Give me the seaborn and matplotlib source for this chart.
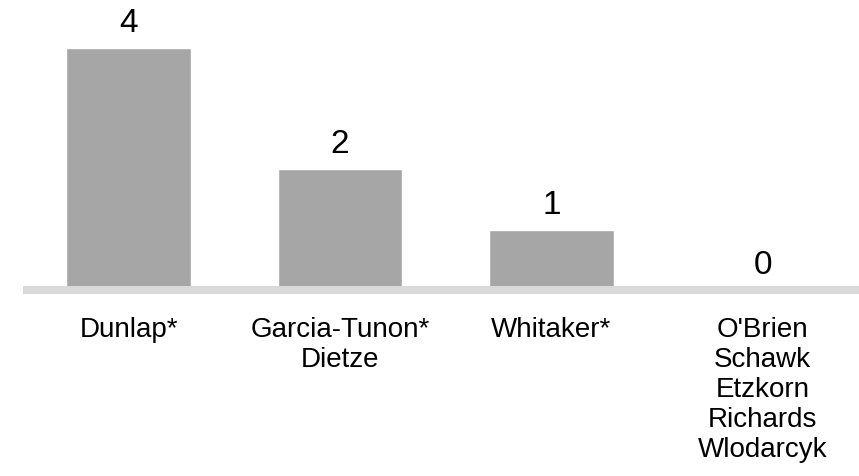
import matplotlib
matplotlib.use('Agg')
import matplotlib.pyplot as plt
import seaborn as sns
import pandas as pd

# Chart data
names = ["Dunlap*", "Garcia-Tunon*\nDietze", "Whitaker*",
         "O'Brien\nSchawk\nEtzkorn\nRichards\nWlodarcyk"]
counts = [4, 2, 1, 0]

df = pd.DataFrame({'name': names, 'count': counts})

sns.set_style('white')
plt.rcParams['font.family'] = ['Liberation Sans', 'DejaVu Sans']

fig = plt.figure(figsize=(8.59, 4.77), dpi=100)
ax = fig.add_axes([0.02666, 0.3795, 0.9844, 0.6205])

sns.barplot(data=df, x='name', y='count', color='#a6a6a6', saturation=1,
            width=0.59, ax=ax)

# thick grey baseline, square ends
ax.axhline(0, color='#d9d9d9', lw=5.76, zorder=5, clip_on=False,
           solid_capstyle='butt')

# value labels above bars
for i, v in enumerate(counts):
    ax.annotate(str(v), (i, v), xytext=(0, 12.5), textcoords='offset points',
                ha='center', va='baseline', fontsize=24, color='black')

ax.set_xlim(-0.5, 3.5)
ax.set_ylim(-0.0743, 4.81)
ax.set_xlabel('')
ax.set_ylabel('')
ax.set_yticks([])
ax.tick_params(axis='x', length=0, pad=15, labelsize=20, labelcolor='black')
for s in ax.spines.values():
    s.set_visible(False)

fig.savefig('out.png', dpi=100)
